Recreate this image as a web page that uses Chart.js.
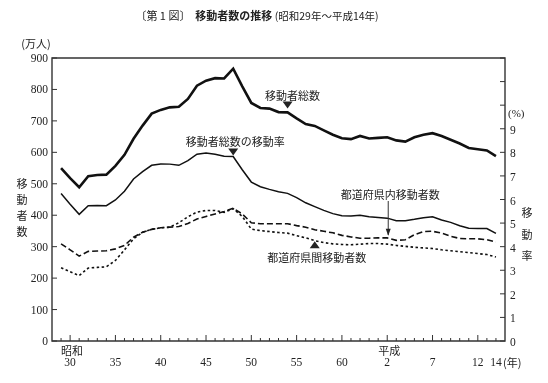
<!DOCTYPE html>
<html><head><meta charset="utf-8">
<script src="https://cdn.jsdelivr.net/npm/chart.js@4"></script>
<style>html,body{margin:0;padding:0;background:#fff}canvas{display:block}</style>
</head><body>
<canvas id="c" width="548" height="383"></canvas>
<script>
const years = [1954,1955,1956,1957,1958,1959,1960,1961,1962,1963,1964,1965,1966,1967,1968,1969,1970,1971,1972,1973,1974,1975,1976,1977,1978,1979,1980,1981,1982,1983,1984,1985,1986,1987,1988,1989,1990,1991,1992,1993,1994,1995,1996,1997,1998,1999,2000,2001,2002];
// 移動者総数 (万人)
const totalMovers = [550,518,489,524,528,529,557,592,643,685,723,735,743,745,770,812,828,836,835,866,810,757,741,739,728,727,708,690,684,670,656,645,642,652,644,646,648,638,634,648,656,661,652,640,628,614,610,606,588];
// 都道府県内移動者数 (万人)
const intraMovers = [309,290,270,285,286,287,293,304,330,346,355,360,362,364,374,388,396,404,412,422,404,376,373,373,373,373,367,362,354,349,344,336,331,327,327,328,328,320,322,338,348,349,343,333,326,325,325,322,315];
// 都道府県間移動者数 (万人)
const interMovers = [233,220,208,232,234,236,256,290,325,346,355,360,362,376,395,410,415,415,409,421,396,356,351,348,345,343,335,328,319,313,309,307,306,308,310,310,308,304,301,298,296,294,290,287,284,281,278,275,267];
// 移動者総数の移動率 (%)
const moveRate = [6.25,5.80,5.37,5.74,5.75,5.74,5.98,6.35,6.87,7.18,7.45,7.51,7.50,7.45,7.65,7.92,7.97,7.92,7.83,7.82,7.26,6.74,6.54,6.43,6.33,6.26,6.08,5.86,5.70,5.54,5.40,5.31,5.30,5.33,5.27,5.24,5.21,5.10,5.10,5.16,5.23,5.27,5.13,5.03,4.89,4.78,4.77,4.77,4.56];

const leftTicks = [0,100,200,300,400,500,600,700,800,900];
const rightTicks = [0,1,2,3,4,5,6,7,8,9,10,11,12];
const rightTickLabels = [0,1,2,3,4,5,6,7,8,9];
const xLabelYears = [1955,1960,1965,1970,1975,1980,1985,1990,1995,2000,2002];
const xLabelText = ['30','35','40','45','50','55','60','2','7','12','14'];
const xEraYears = [1955,1990];
const xEraText = ['昭和','平成'];

const SERIF = '"Liberation Serif","Noto Sans CJK JP",serif';
const CJK = '"Noto Sans CJK JP","Liberation Serif",sans-serif';

const pts = arr => years.map((y,i)=>({x:y,y:arr[i]}));

const decor = {
  id:'decor',
  afterDraw(chart){
    const ctx = chart.ctx, a = chart.chartArea;
    const xs = chart.scales.x, ys = chart.scales.y, y2 = chart.scales.y2;
    ctx.save();
    // frame
    ctx.strokeStyle = '#333'; ctx.lineWidth = 1.4;
    ctx.beginPath();
    ctx.moveTo(a.left, a.top); ctx.lineTo(a.right, a.top); ctx.lineTo(a.right, a.bottom);
    ctx.lineTo(a.left, a.bottom); ctx.closePath(); ctx.stroke();
    // left ticks
    ctx.lineWidth = 1;
    ctx.fillStyle = '#222';
    ctx.font = '11.5px ' + SERIF;
    ctx.textAlign = 'right'; ctx.textBaseline = 'middle';
    leftTicks.forEach(v=>{
      const y = ys.getPixelForValue(v);
      ctx.beginPath(); ctx.moveTo(a.left, y); ctx.lineTo(a.left+5, y); ctx.stroke();
      ctx.fillText(String(v), a.left-4, y+1);
    });
    // right ticks
    ctx.textAlign = 'left';
    rightTicks.forEach(v=>{
      const y = y2.getPixelForValue(v);
      ctx.beginPath(); ctx.moveTo(a.right-5, y); ctx.lineTo(a.right, y); ctx.stroke();
    });
    rightTickLabels.forEach(v=>{
      const y = y2.getPixelForValue(v);
      ctx.fillText(String(v), a.right+5, y+2);
    });
    ctx.font = '11px ' + SERIF;
    ctx.fillText('(%)', a.right+3, y2.getPixelForValue(9.6));
    // x ticks
    years.forEach(yr=>{
      const x = xs.getPixelForValue(yr);
      const len = (yr % 5 === 0) ? 6 : 3;
      ctx.beginPath(); ctx.moveTo(x, a.bottom); ctx.lineTo(x, a.bottom-len); ctx.stroke();
    });
    // x labels
    ctx.textAlign = 'center';
    ctx.font = '11.5px ' + SERIF;
    xLabelYears.forEach((yr,i)=>{
      const x = xs.getPixelForValue(yr);
      ctx.fillText(xLabelText[i], x, a.bottom+22);
    });
    const x14 = xs.getPixelForValue(2002);
    ctx.textAlign = 'left';
    ctx.font = '11px ' + CJK;
    ctx.fillText('(年)', x14+7, a.bottom+22);
    ctx.textAlign = 'center';
    ctx.font = '11px ' + CJK;
    xEraYears.forEach((yr,i)=>{
      const x = xs.getPixelForValue(yr);
      ctx.fillText(xEraText[i], x+2, a.bottom+10);
    });
    // axis titles
    ctx.font = '11px ' + CJK;
    ctx.fillText('(万人)', 36, 44);
    ['移','動','者','数'].forEach((c,i)=>ctx.fillText(c, 22, 184+i*16));
    ['移','動','率'].forEach((c,i)=>ctx.fillText(c, 527, 213+i*21.5));
    // title
    ctx.textAlign = 'left';
    const parts = [['〔第 1 図〕  ', '11px '+CJK], ['移動者数の推移', 'bold 11px '+CJK], [' (昭和29年～平成14年)', '10.5px '+CJK]];
    let tw = 0;
    parts.forEach(p=>{ctx.font=p[1]; tw += ctx.measureText(p[0]).width;});
    let tx = 257 - tw/2;
    parts.forEach(p=>{ctx.font=p[1]; ctx.fillText(p[0], tx, 16); tx += ctx.measureText(p[0]).width;});

    // annotations
    ctx.font = '11px ' + CJK;
    ctx.textAlign = 'center';
    const tri = (x, tipY, down) => {
      ctx.beginPath();
      if(down){ ctx.moveTo(x-5, tipY-7); ctx.lineTo(x+5, tipY-7); ctx.lineTo(x, tipY); }
      else { ctx.moveTo(x-5, tipY+7); ctx.lineTo(x+5, tipY+7); ctx.lineTo(x, tipY); }
      ctx.closePath(); ctx.fill();
    };
    // 移動者総数
    let i = years.indexOf(1979);
    let x = xs.getPixelForValue(1979), y = ys.getPixelForValue(totalMovers[i]);
    tri(x, y-4, true);
    ctx.fillText('移動者総数', x+5, y-17);
    // 移動率
    i = years.indexOf(1973);
    x = xs.getPixelForValue(1973); y = y2.getPixelForValue(moveRate[i]);
    tri(x, y-1, true);
    ctx.fillText('移動者総数の移動率', x+2, y-15);
    // 都道府県内
    i = years.indexOf(1990);
    x = xs.getPixelForValue(1990)+1; y = ys.getPixelForValue(intraMovers[i]);
    ctx.beginPath(); ctx.moveTo(x, 201); ctx.lineTo(x, y-3); ctx.stroke();
    ctx.beginPath(); ctx.moveTo(x-2.5, y-9); ctx.lineTo(x+2.5, y-9); ctx.lineTo(x, y-2); ctx.closePath(); ctx.fill();
    ctx.fillText('都道府県内移動者数', x+2, 195);
    // 都道府県間
    i = years.indexOf(1982);
    x = xs.getPixelForValue(1982); y = ys.getPixelForValue(interMovers[i]);
    tri(x, y+0.5, false);
    ctx.fillText('都道府県間移動者数', x+2, y+17);
    ctx.restore();
  }
};

new Chart(document.getElementById('c'), {
  type:'line',
  data:{datasets:[
    {label:'移動者総数', data:pts(totalMovers), yAxisID:'y', borderColor:'#111', borderWidth:2.6, pointRadius:0, fill:false},
    {label:'移動者総数の移動率', data:pts(moveRate), yAxisID:'y2', borderColor:'#111', borderWidth:1.5, pointRadius:0, fill:false},
    {label:'都道府県内移動者数', data:pts(intraMovers), yAxisID:'y', borderColor:'#111', borderWidth:1.6, borderDash:[6,3], pointRadius:0, fill:false},
    {label:'都道府県間移動者数', data:pts(interMovers), yAxisID:'y', borderColor:'#111', borderWidth:1.6, borderDash:[2.5,2.5], pointRadius:0, fill:false}
  ]},
  options:{
    responsive:false, animation:false, devicePixelRatio:1,
    layout:{padding:{left:52, right:43, top:58, bottom:42}},
    plugins:{legend:{display:false}, tooltip:{enabled:false}},
    elements:{line:{tension:0}},
    scales:{
      x:{type:'linear', min:1953, max:2003, display:false},
      y:{min:0, max:900, display:false},
      y2:{min:0, max:12, display:false, position:'right'}
    }
  },
  plugins:[decor]
});
</script>
</body></html>
